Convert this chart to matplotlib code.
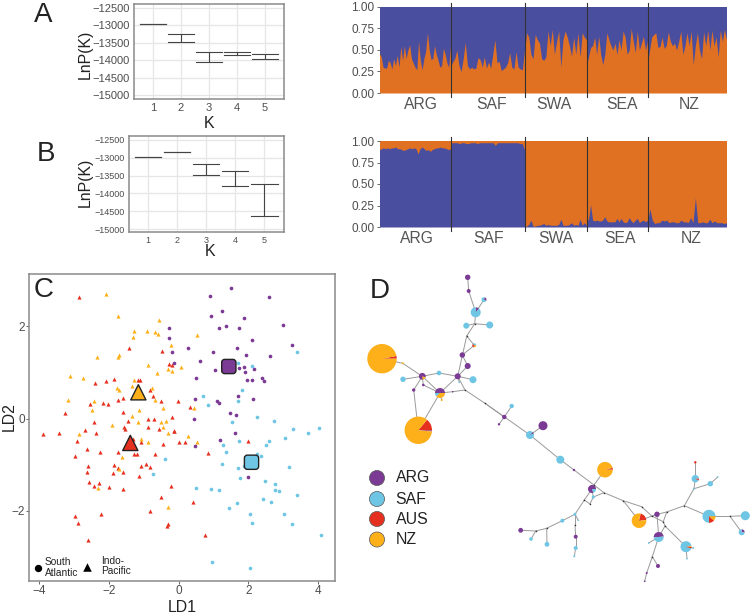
import numpy as np
import matplotlib
matplotlib.use("Agg")
import matplotlib.pyplot as plt
from matplotlib.path import Path

plt.rcParams['font.family'] = ['Liberation Sans', 'DejaVu Sans']

W, H = 752, 613

BLUE_S = "#4A4E9F"
ORANGE_S = "#E07022"
PURPLE = "#7B3A94"
CYAN = "#6EC6E4"
RED = "#E5301F"
YELLOW = "#FDB01A"
SPINE = "#8A8A8A"
GRID = "#E6E6E6"
TICKTXT = "#4D4D4D"

# panels A and B: LnP(K) ranges
k_vals = [1, 2, 3, 4, 5]
a_hi = [-12970, -13260, -13760, -13750, -13830]
a_lo = [-12970, -13490, -14050, -13860, -13970]
b_hi = [-12985, -12850, -13170, -13370, -13740]
b_lo = [-12985, -12850, -13470, -13800, -14640]
lnp_ticks = [-12500, -13000, -13500, -14000, -14500, -15000]

# structure plots
pops = ["ARG", "SAF", "SWA", "SEA", "NZ"]
pop_edges = [0, 71, 145, 207, 268, 347]
k2a_label_pos = [41.5, 112.5, 174.5, 242.5, 309.5]
k2b_label_pos = [37.5, 109.5, 176, 240.5, 311.5]

k2_orange = [
    [0.46, 0.42, 0.30, 0.29, 0.29, 0.38, 0.35, 0.28, 0.40, 0.32, 0.44, 0.30, 0.54, 0.38, 0.55, 0.40, 0.50, 0.56,
     0.40, 0.35, 0.30, 0.27, 0.60, 0.38, 0.27, 0.40, 0.48, 0.70, 0.50, 0.39, 0.40, 0.55, 0.45, 0.38, 0.30, 0.32,
     0.52, 0.45, 0.35, 0.30, 0.55],
    [0.30, 0.36, 0.40, 0.50, 0.32, 0.25, 0.40, 0.59, 0.32, 0.28, 0.30, 0.28, 0.29, 0.41, 0.39, 0.30, 0.42, 0.29,
     0.36, 0.29, 0.45, 0.62, 0.35, 0.37, 0.26, 0.28, 0.30, 0.35, 0.47, 0.30, 0.28, 0.48, 0.30, 0.28, 0.27, 0.50],
    [0.46, 0.70, 0.65, 0.45, 0.40, 0.68, 0.62, 0.58, 0.40, 0.38, 0.42, 0.72, 0.55, 0.74, 0.45, 0.60, 0.72, 0.30,
     0.62, 0.72, 0.65, 0.55, 0.43, 0.65, 0.45, 0.70, 0.42, 0.70, 0.65, 0.62],
    [0.32, 0.42, 0.53, 0.55, 0.65, 0.45, 0.66, 0.45, 0.33, 0.45, 0.70, 0.62, 0.55, 0.50, 0.58, 0.45, 0.62, 0.50,
     0.72, 0.65, 0.45, 0.50, 0.75, 0.60, 0.47, 0.72, 0.50, 0.58, 0.66, 0.50, 0.60],
    [0.33, 0.50, 0.65, 0.68, 0.70, 0.53, 0.54, 0.65, 0.52, 0.55, 0.71, 0.60, 0.55, 0.58, 0.50, 0.60, 0.72, 0.45,
     0.55, 0.70, 0.55, 0.72, 0.33, 0.55, 0.70, 0.50, 0.40, 0.71, 0.55, 0.73, 0.50, 0.73, 0.55, 0.65, 0.42, 0.73,
     0.60, 0.74, 0.62],
]
k2_blue = [
    [0.90, 0.91, 0.92, 0.91, 0.92, 0.91, 0.92, 0.92, 0.93, 0.91, 0.91, 0.90, 0.89, 0.90, 0.91, 0.92, 0.91, 0.92,
     0.91, 0.85, 0.91, 0.93, 0.91, 0.89, 0.90, 0.88, 0.90, 0.91, 0.92, 0.92, 0.93, 0.92, 0.92, 0.91, 0.90, 0.91],
    [0.97, 0.98, 0.98, 0.98, 0.97, 0.98, 0.98, 0.97, 0.97, 0.98, 0.98, 0.98, 0.97, 0.98, 0.98, 0.98, 0.98, 0.98,
     0.98, 0.98, 0.95, 0.98, 0.98, 0.98, 0.98, 0.98, 0.98, 0.98, 0.98, 0.98, 0.98, 0.97, 0.97, 0.90],
    [0.01, 0.01, 0.03, 0.08, 0.01, 0.01, 0.02, 0.02, 0.03, 0.04, 0.02, 0.03, 0.02, 0.02, 0.02, 0.02, 0.03, 0.09,
     0.02, 0.02, 0.02, 0.03, 0.05, 0.02, 0.03, 0.02, 0.09, 0.02, 0.05, 0.02],
    [0.07, 0.09, 0.26, 0.08, 0.07, 0.08, 0.07, 0.07, 0.08, 0.12, 0.07, 0.06, 0.06, 0.06, 0.06, 0.10, 0.06, 0.10,
     0.06, 0.05, 0.06, 0.11, 0.07, 0.05, 0.08, 0.10, 0.05, 0.07, 0.08, 0.06, 0.08],
    [0.05, 0.21, 0.08, 0.04, 0.05, 0.05, 0.08, 0.07, 0.08, 0.05, 0.06, 0.06, 0.05, 0.05, 0.08, 0.06, 0.06, 0.05,
     0.11, 0.05, 0.34, 0.05, 0.05, 0.06, 0.05, 0.05, 0.09, 0.05, 0.07, 0.05, 0.05, 0.05, 0.04, 0.05],
]

# panel C: discriminant scores
red_x = [-2.84, -3.89, -3.41, -3.24, -2.92, -2.96, -2.95, -2.89, -2.60, -2.60, -2.62, -2.57, -2.42, -2.28, -2.62,
         -2.68, -2.36, -2.42, -2.53, -2.40, -2.08, -2.17, -2.01, -1.84, -1.74, -1.58, -1.60, -1.44, -1.57, -1.52,
         -2.25, -1.73, -1.86, -1.73, -1.88, -1.59, -1.99, -1.58, -2.23, -1.41, -1.15, -1.09, -0.81, -0.73, -0.49,
         -0.88, -0.69, -0.20, -0.87, -0.56, -0.14, -1.08, -0.43, -0.67, -1.28, -1.19, -1.06, -0.93, -0.82, -1.13,
         -0.22, -0.50, -0.83, -0.29, -0.33, -0.48, -0.27, -0.19, -1.29, -0.01, 0.32, -0.12, 0.00, 0.20, 0.84, 1.99,
         0.42, 0.75]
red_y = [2.63, -0.34, -0.32, 0.13, -0.48, -0.82, -2.11, -2.26, -2.63, -1.04, -1.16, -1.37, -1.47, -1.39, -0.66,
         -0.26, -0.32, -0.08, 0.31, 0.77, 0.82, 0.34, 0.31, 0.85, 0.40, 0.44, 0.15, -0.05, -0.18, -0.22, -0.73,
         -0.72, -1.00, -1.07, -1.18, -1.17, -1.48, -1.53, -2.08, 1.53, 0.84, 0.84, 0.61, 0.48, 0.39, 0.00, -0.02,
         0.04, -0.19, -0.23, -0.27, -0.52, -0.55, -0.76, -0.78, -0.76, -1.03, -0.98, -1.05, -1.25, -1.47, -1.71,
         -2.00, -2.29, -2.34, 1.46, 1.19, 1.16, -0.45, 0.39, 0.25, -0.27, -0.50, -0.50, -0.75, -0.48, -1.82, -2.53]
nz_x = [-2.08, -1.74, -0.57, -1.26, -0.90, -0.68, -0.60, -1.29, -0.22, -2.33, -1.69, -1.74, -0.86, -0.29, -0.19,
        -0.62, -3.10, -2.72, -1.27, -1.34, -1.76, -1.71, -0.76, -3.17, -2.41, -0.67, -2.48, -1.14, -0.43, -1.34,
        -1.15, -1.89, -0.51, -0.37, -0.44, -0.29, -2.86, -1.08, -0.86, -1.62, -1.71, -2.31, -0.29, 0.54, 0.06,
        0.45, 0.27, 0.54]
nz_y = [2.70, 2.22, 2.14, 1.91, 1.90, 1.87, 1.83, 1.77, 1.60, 1.33, 1.38, 1.34, 1.16, 1.08, 1.04, 0.99, 0.92, 0.89,
        0.84, 0.71, 0.66, 0.61, 0.66, 0.41, 0.38, 0.41, 0.19, 0.18, 0.22, 0.05, -0.07, -0.14, -0.08, -0.05, -0.18,
        -0.31, -0.34, -0.45, -0.50, -0.83, -1.10, -1.51, -1.92, 1.82, 1.11, 0.23, -0.37, -0.50]
arg_x = [1.51, 0.90, 2.59, 1.24, 0.92, 1.87, 1.36, 1.17, 1.74, 2.99, 2.11, 3.24, 1.68, 0.27, 0.98, -0.19, 1.92, 2.63,
         0.62, -0.13, 1.05, 1.74, 1.87, 1.91, 2.16, 0.50, 1.96, 2.10, 2.39, 2.45, 0.47, 1.11, 1.16, 1.69, 2.13, 1.48,
         1.66, 0.43, 1.63, 1.19, 0.47, 1.99, -0.27, -0.26]
arg_y = [2.84, 2.67, 2.65, 2.33, 2.22, 2.19, 2.01, 1.96, 1.97, 2.03, 1.71, 1.59, 1.54, 1.54, 1.45, 1.45, 1.38, 1.35,
         1.26, 1.21, 1.05, 1.09, 1.11, 1.00, 1.08, 0.87, 0.84, 0.84, 0.87, 0.82, 0.43, 0.38, 0.34, 0.49, 0.42, 0.12,
         0.07, 0.00, -0.32, -0.47, -0.59, -1.26, 1.97, 1.76]
saf_x = [3.40, 1.70, 2.10, 1.82, 0.70, 1.69, 0.85, 2.24, 2.73, 1.52, 3.27, 4.03, 3.71, 3.06, 1.73, 2.59, 2.51, 1.26,
         1.36, 2.26, 2.35, 1.24, 1.71, 3.15, 1.88, 1.75, 2.48, 2.76, 2.76, 2.87, 0.50, 0.94, 1.17, 3.40, 2.42, 2.64,
         1.67, 1.45, 2.04, 3.03, 2.10, 3.26, 4.08, 0.95, 2.04, -0.38, -0.72]
saf_y = [1.45, 1.21, 1.14, 0.61, 0.48, 0.37, 0.29, 0.04, -0.05, -0.08, -0.23, -0.21, -0.32, -0.42, -0.48, -0.49, -0.58,
         -0.58, -0.73, -0.76, -0.82, -0.99, -1.07, -1.05, -1.04, -1.29, -1.35, -1.42, -1.56, -1.58, -1.50, -1.53,
         -1.55, -1.66, -1.74, -1.82, -1.84, -1.95, -2.07, -2.08, -2.26, -2.30, -2.53, -3.12, -3.25, -0.87, -1.21]
centroid_x = [1.44, 2.09, -1.15, -1.38]
centroid_y = [1.13, -0.95, 0.57, -0.53]

# panel D: haplotype network, layout positions and ARG/SAF/AUS/NZ shares
hap_x = [467.7, 468.7, 484, 475.7, 466.3, 489.7, 474.3, 462.3, 467.7, 382, 402.7, 422.3, 439, 403, 457.7, 473, 413.7,
         423.3, 440, 441.7, 452.7, 459.3, 418.3, 511.7, 504.3, 499, 543, 530, 560.3, 574, 605, 592, 593.3, 578.3, 575,
         562.3, 520.7, 531, 547, 575.7, 575.7, 574.3, 639, 657, 658.7, 648.7, 658, 646.7, 644.7, 686, 693.3, 687, 709,
         745.3, 741.7, 695.3, 695.3, 710.3, 717.7, 694]
hap_y = [277.3, 291, 299.7, 312.3, 325.7, 325, 345.3, 355, 366, 358.7, 363.3, 376.3, 373, 379.3, 376.3, 379.7, 390, 385,
         393, 400, 391.7, 382.3, 430.3, 406, 417, 424.3, 425.7, 435, 459.7, 470, 469.7, 489, 497, 520.3, 514.3, 520.7,
         530.3, 539, 544.3, 536.7, 548, 556.3, 520.7, 514.3, 537, 543, 566, 573, 581.3, 546.7, 548, 558.7, 516.3,
         515.7, 532.3, 478.7, 462.3, 483.7, 477, 488.7]
hap_r = [2.7, 2, 2.5, 5, 3, 3.5, 2, 2.7, 3, 14.7, 1, 3.4, 2.3, 2.7, 3, 3.5, 1.7, 1.3, 5, 1, 0.8, 0.8, 13.7, 2.2, 2.2,
         1.2, 4.5, 4, 4, 1.2, 7.8, 4, 1.6, 0.8, 1.5, 2, 2.4, 1.8, 2.4, 2, 2, 1, 7.3, 2.7, 5, 0.8, 2, 1, 0.8, 5.5, 0.8,
         0.8, 6.5, 4.5, 3, 3.7, 1.2, 2.7, 0.8, 0.8]
hap_arg = [1, 1, 30, 10, 0, 0, 0, 1, 1, 0, 0, 83, 0, 0, 1, 0, 1, 1, 50, 0, 1, 0, 1.4, 0, 1, 1, 1, 8, 0, 1, 0, 80, 0, 0,
           0, 0, 1, 0, 0, 1, 0, 0, 0, 1, 50, 0, 1, 1, 1, 0, 0, 0, 0, 0, 25, 0, 0, 0, 0, 0]
hap_saf = [0, 0, 70, 90, 1, 1, 40, 0, 0, 0, 0, 0, 1, 1, 0, 1, 0, 0, 12, 0, 0, 1, 0, 1, 0, 0, 0, 92, 1, 0, 0, 20, 1, 1,
           1, 1, 0, 1, 1, 0, 1, 1, 0, 0, 50, 1, 0, 0, 0, 92, 1, 1, 75, 1, 75, 92, 0, 1, 1, 1]
hap_aus = [0, 0, 0, 0, 0, 0, 35, 0, 0, 3, 0, 0, 0, 0, 0, 0, 0, 0, 0, 0, 0, 0, 14, 0, 0, 0, 0, 0, 0, 0, 4, 0, 0, 0, 0, 0,
           0, 0, 0, 0, 0, 0, 20, 0, 0, 0, 0, 0, 0, 5, 0, 0, 14, 0, 0, 8, 1, 0, 0, 0]
hap_nz = [0, 0, 0, 0, 0, 0, 25, 0, 0, 97, 1, 17, 0, 0, 0, 0, 0, 0, 38, 1, 0, 0, 85, 0, 0, 0, 0, 0, 0, 0, 96, 0, 0, 0, 0,
          0, 0, 0, 0, 0, 0, 0, 80, 0, 0, 0, 0, 0, 0, 3, 0, 0, 11, 0, 0, 0, 0, 0, 0, 0]
hap_start = [0, 0, -30, 50, 0, 0, 0, 0, 0, 0, 0, 340, 0, 0, 0, 0, 0, 0, 0, 0, 0, 0, -5, 0, 0, 0, 0, 20, 0, 0, 0, 0, 0, 0,
             0, 0, 0, 0, 0, 0, 0, 0, 5, 0, 5, 0, 0, 0, 0, 10, 0, 0, 0, 0, 0, 0, 0, 0, 0, 0]
# unsampled median vectors
mv_x = [465, 466.7, 474.7, 485, 594, 604, 623.3, 641.7, 666.7, 684.3, 663.3, 665, 652.3, 730, 584.3, 590, 546.7, 535.7,
        575, 651.7]
mv_y = [390, 336, 323.7, 403.3, 485, 492.7, 500.7, 506.7, 512, 505.7, 521.7, 526, 556.7, 516.3, 500, 504, 528.3, 531,
        525, 516]
edges = [(0, 1), (1, 3), (2, 3), (3, 62), (62, 4), (62, 5), (62, 61), (61, 14), (61, 6), (6, 7), (7, 8), (8, 14),
         (14, 15), (14, 12), (12, 11), (11, 13), (11, 18), (14, 18), (9, 10), (10, 11), (18, 22), (11, 16), (16, 22),
         (17, 18), (17, 11), (18, 20), (20, 60), (14, 60), (14, 21), (18, 19), (60, 63), (63, 24), (24, 23), (24, 25),
         (63, 27), (27, 26), (27, 28), (28, 29), (29, 64), (64, 65), (64, 30), (64, 31), (31, 32), (32, 65), (65, 66),
         (66, 67), (66, 42), (67, 79), (79, 43), (42, 43), (43, 68), (68, 69), (69, 52), (69, 59), (59, 55), (59, 57),
         (57, 58), (55, 56), (52, 73), (73, 53), (73, 54), (43, 44), (68, 70), (70, 71), (71, 44), (79, 70), (71, 49),
         (49, 50), (49, 51), (44, 45), (44, 72), (72, 46), (72, 47), (47, 48), (31, 74), (74, 75), (75, 32), (74, 34),
         (34, 33), (34, 35), (34, 78), (78, 39), (39, 40), (40, 41), (35, 76), (76, 77), (76, 38), (77, 36), (77, 37)]
leg_names = ["ARG", "SAF", "AUS", "NZ"]
leg_cols = [PURPLE, CYAN, RED, YELLOW]
leg_y = [478, 499, 519, 539.5]


def px_axes(left, top, right, bottom):
    return fig.add_axes([left / W, 1 - bottom / H, (right - left) / W, (bottom - top) / H])


def lnp_panel(box, xlim, ylim, hi, lo, tick_fs):
    ax = px_axes(*box)
    ax.set_axisbelow(True)
    ax.grid(True, color=GRID, lw=0.9)
    for k, h, l in zip(k_vals, hi, lo):
        ax.plot([k, k], [l, h], color="#444444", lw=0.8, solid_capstyle="butt")
        ax.plot([k - 0.45, k + 0.45], [h, h], color="#444444", lw=0.8)
        ax.plot([k - 0.45, k + 0.45], [l, l], color="#444444", lw=0.8)
    ax.set_xlim(xlim)
    ax.set_ylim(ylim)
    ax.set_xticks(k_vals)
    ax.set_yticks(lnp_ticks)
    ax.tick_params(labelsize=tick_fs, labelcolor=TICKTXT, length=0, pad=3)
    for s in ax.spines.values():
        s.set_color(SPINE)
        s.set_linewidth(1.1)
    return ax


def structure_panel(box, lower, lower_col, upper_col, label_pos):
    ax = px_axes(*box)
    for i, vals in enumerate(lower):
        xs = np.linspace(pop_edges[i], pop_edges[i + 1], len(vals))
        ax.fill_between(xs, 0, 1, color=upper_col, lw=0)
        ax.fill_between(xs, 0, vals, color=lower_col, lw=0)
    for e in pop_edges[1:-1]:
        ax.plot([e, e], [-0.05, 1.05], color="#333333", lw=0.8, clip_on=False)
    ax.set_xlim(pop_edges[0], pop_edges[-1])
    ax.set_ylim(0, 1)
    ax.set_yticks([0, 0.25, 0.5, 0.75, 1.0])
    ax.set_yticklabels(["0.00", "0.25", "0.50", "0.75", "1.00"])
    ax.set_xticks(label_pos)
    ax.set_xticklabels(pops, color="#555555", fontsize=11.3)
    ax.tick_params(axis="x", length=0, pad=3)
    ax.tick_params(axis="y", labelsize=8.5, labelcolor=TICKTXT, length=2, width=0.7, color="#666666", pad=1.5)
    for s in ax.spines.values():
        s.set_visible(False)
    return ax


fig = plt.figure(figsize=(W / 100, H / 100), dpi=100)

lnp_panel((134, 4, 284, 99), (0.32, 5.68), (-15115, -12385), a_hi, a_lo, 8)
lnp_panel((129, 136, 284, 232), (0.35, 5.67), (-15084, -12388), b_hi, b_lo, 6.5)
fig.text(85.5 / W, 1 - 54.5 / H, "LnP(K)", rotation=90, fontsize=11.4, ha="center", va="center", color="#222222")
fig.text(85.5 / W, 1 - 182.5 / H, "LnP(K)", rotation=90, fontsize=11.4, ha="center", va="center", color="#222222")
fig.text(209 / W, 1 - 128 / H, "K", fontsize=11.5, ha="center", va="baseline", color="#222222")
fig.text(210 / W, 1 - 256 / H, "K", fontsize=11.5, ha="center", va="baseline", color="#222222")

structure_panel((379.5, 7, 726.5, 93), k2_orange, ORANGE_S, BLUE_S, k2a_label_pos)
structure_panel((379.5, 141, 726.5, 227), k2_blue, BLUE_S, ORANGE_S, k2b_label_pos)

# panel C
ax_c = px_axes(29, 274, 335, 581)
ax_c.scatter(red_x, red_y, marker="^", s=9, color=RED, lw=0, zorder=3)
ax_c.scatter(nz_x, nz_y, marker="^", s=9, color=YELLOW, lw=0, zorder=3)
ax_c.scatter(arg_x, arg_y, marker="o", s=7, color=PURPLE, lw=0, zorder=3)
ax_c.scatter(saf_x, saf_y, marker="o", s=7, color=CYAN, lw=0, zorder=3)
c = 0.42
round_sq = Path(
    [(-1 + c, -1), (1 - c, -1), (1, -1), (1, -1 + c), (1, 1 - c), (1, 1), (1 - c, 1), (-1 + c, 1), (-1, 1), (-1, 1 - c),
     (-1, -1 + c), (-1, -1), (-1 + c, -1), (-1 + c, -1)],
    [Path.MOVETO, Path.LINETO, Path.CURVE3, Path.CURVE3, Path.LINETO, Path.CURVE3, Path.CURVE3, Path.LINETO,
     Path.CURVE3, Path.CURVE3, Path.LINETO, Path.CURVE3, Path.CURVE3, Path.CLOSEPOLY])
ax_c.scatter(centroid_x[:2], centroid_y[:2], marker=round_sq, s=105, c=[PURPLE, CYAN], edgecolors="#222222", lw=1,
             zorder=4)
ax_c.scatter(centroid_x[2:], centroid_y[2:], marker="^", s=120, c=[YELLOW, RED], edgecolors="#222222", lw=1, zorder=4)
ax_c.set_xlim(-4.28, 4.48)
ax_c.set_ylim(-3.53, 3.14)
ax_c.set_xticks([-4, -2, 0, 2, 4])
ax_c.set_yticks([-2, 0, 2])
ax_c.tick_params(labelsize=8.5, labelcolor=TICKTXT, length=2, width=0.7, color="#666666", pad=1)
for s in ax_c.spines.values():
    s.set_color(SPINE)
    s.set_linewidth(1.1)
ax_c.scatter([-4.03], [-3.24], marker="o", s=28, color="black", lw=0)
ax_c.scatter([-2.62], [-3.22], marker="^", s=38, color="black", lw=0)
ax_c.text(-3.83, -3.24, "South\nAtlantic", fontsize=7.3, va="center", linespacing=1.05, color="#222222")
ax_c.text(-2.22, -3.2, "Indo-\nPacific", fontsize=7.3, va="center", linespacing=1.05, color="#222222")
fig.text(182 / W, 1 - 611.5 / H, "LD1", fontsize=11.4, ha="center", va="baseline", color="#222222")
fig.text(9 / W, 1 - 417 / H, "LD2", rotation=90, fontsize=11.4, ha="center", va="center", color="#222222")

# panel D
ax_d = fig.add_axes([0, 0, 1, 1], facecolor="none")
all_x = hap_x + mv_x
all_y = hap_y + mv_y
for i, j in edges:
    ax_d.plot([all_x[i], all_x[j]], [-all_y[i], -all_y[j]], color="#9A9A9A", lw=0.7, zorder=1)
ax_d.scatter(mv_x, [-v for v in mv_y], s=1.2, color="#333333", lw=0, zorder=2)
for n in range(len(hap_x)):
    shares = [hap_arg[n], hap_saf[n], hap_aus[n], hap_nz[n]]
    keep = [v > 0 for v in shares]
    ax_d.pie([v for v, k in zip(shares, keep) if k], colors=[cc for cc, k in zip(leg_cols, keep) if k],
             center=(hap_x[n], -hap_y[n]), radius=hap_r[n], startangle=hap_start[n],
             wedgeprops={"lw": 0, "zorder": 3}, frame=False)
ax_d.scatter([377] * 4, [-v for v in leg_y], s=118, c=leg_cols, edgecolors="#555555", lw=0.5, zorder=3)
for nm, y in zip(leg_names, leg_y):
    ax_d.text(395.7, -y, nm, fontsize=11.4, va="center", color="#222222")
ax_d.set_xlim(0, W)
ax_d.set_ylim(-H, 0)
ax_d.set_aspect("auto")
ax_d.axis("off")

for letter, x, y in [("A", 43.5, 22), ("B", 46, 161), ("C", 44, 297), ("D", 379.5, 298)]:
    fig.text(x / W, 1 - y / H, letter, fontsize=20, ha="center", va="baseline", color="#222222")

fig.savefig("out.png", dpi=100)
